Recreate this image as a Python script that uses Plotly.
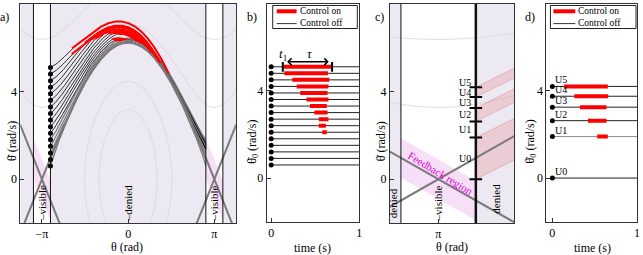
import numpy as np
import plotly.graph_objects as go

W, H = 643, 255
PI = np.pi

# ---------------- data ----------------
theta_dot0 = [5.1, 4.8, 4.5, 4.2, 3.9, 3.6, 3.3, 3.0, 2.7, 2.4, 2.1, 1.8, 1.5, 1.2, 0.9, 0.6]
ctrl_start = [0.144, 0.150, 0.240, 0.290, 0.330, 0.400, 0.440, 0.490, 0.540, 0.540, 0.580,
              None, None, None, None, None]
ctrl_end = [0.683, 0.645, 0.660, 0.650, 0.640, 0.650, 0.630, 0.640, 0.650, 0.620, 0.630,
            None, None, None, None, None]

u_labels = ["U0", "U1", "U2", "U3", "U4", "U5"]
u_values = [0.0, 1.9, 2.63, 3.25, 3.75, 4.2]
u_ctrl_start = [None, 0.53, 0.42, 0.325, 0.26, 0.137]
u_ctrl_end = [None, 0.655, 0.64, 0.64, 0.66, 0.655]
u_label_y_c = [0.93, 2.27, 2.96, 3.50, 3.96, 4.42]

legend_labels = ["Control on", "Control off"]

energy_levels = [5, 10, 25, 40]
g_over_l = 9.81
brake = 3.3
visible_half = 0.31
manifold_half_len = 0.8
feedback_half = 0.9
band_slope = 2.75
band_pairs = [(0, 1), (2, 3), (4, 5)]

FONT = "Liberation Serif"
LAV = "#ece9f3"
omega = np.sqrt(g_over_l)
VIS_LO, VIS_HI = PI - visible_half, PI + visible_half
THETA0 = -VIS_LO


def px_x(p):
    return p / W


def px_y(p):
    return 1 - p / H


# ---------------- simulation of the pendulum ----------------
def simulate(w0, t_on, t_off):
    dt = 0.0005
    th, w, t = THETA0, w0, 0.0
    ths, ws, on_list = [th], [w], [False]
    while th < VIS_LO and t < 4:
        on = t_on is not None and t_on <= t < t_off
        u = -brake if on else 0.0

        def f(a, b):
            return b, -g_over_l * np.sin(a) + u
        k1 = f(th, w)
        k2 = f(th + dt / 2 * k1[0], w + dt / 2 * k1[1])
        k3 = f(th + dt / 2 * k2[0], w + dt / 2 * k2[1])
        k4 = f(th + dt * k3[0], w + dt * k3[1])
        th += dt / 6 * (k1[0] + 2 * k2[0] + 2 * k3[0] + k4[0])
        w += dt / 6 * (k1[1] + 2 * k2[1] + 2 * k3[1] + k4[1])
        t += dt
        ths.append(th); ws.append(w); on_list.append(on)
    return np.array(ths), np.array(ws), np.array(on_list)


fig = go.Figure()

# ---------------- energy contours (panels a, c) ----------------
gx = np.linspace(-4.1, 4.1, 500)
gy = np.linspace(-2.3, 8.3, 400)
GX, GY = np.meshgrid(gx, gy)
EN = 0.5 * GY ** 2 + g_over_l * (1 - np.cos(GX))
for xa, ya in [("x", "y"), ("x3", "y3")]:
    for lev in energy_levels:
        fig.add_trace(go.Contour(
            x=gx, y=gy, z=EN, xaxis=xa, yaxis=ya, showscale=False, autocontour=False,
            contours=dict(coloring="lines", start=lev, end=lev + 0.5, size=1000),
            colorscale=[[0, "#d6d4da"], [1, "#d6d4da"]],
            line=dict(width=0.8), hoverinfo="skip"))

# ---------------- feedback region bands ----------------
def feedback_poly(c):
    a, b = c - visible_half, c + visible_half
    xs = [a, b, b, a, a]
    ys = [-omega * (a - c) + feedback_half, -omega * (b - c) + feedback_half,
          -omega * (b - c) - feedback_half, -omega * (a - c) - feedback_half,
          -omega * (a - c) + feedback_half]
    return xs, ys


for c, xa, ya in [(-PI, "x", "y"), (PI, "x", "y"), (PI, "x3", "y3")]:
    xs, ys = feedback_poly(c)
    fig.add_trace(go.Scatter(x=xs, y=ys, xaxis=xa, yaxis=ya, fill="toself",
                             fillcolor="rgba(225,110,225,0.22)", line=dict(width=0),
                             mode="lines", showlegend=False, hoverinfo="skip"))

# ---------------- red reachable bands (panel c) ----------------
x_end = 4.0
for i, j in band_pairs:
    lo0, hi0 = u_values[i], u_values[j]
    xs = [VIS_HI, x_end, x_end, VIS_HI, VIS_HI]
    ys = [lo0, lo0 + band_slope * (x_end - VIS_HI), hi0 + band_slope * (x_end - VIS_HI), hi0, lo0]
    fig.add_trace(go.Scatter(x=xs, y=ys, xaxis="x3", yaxis="y3", fill="toself",
                             fillcolor="rgba(230,60,60,0.17)",
                             line=dict(width=1, color="rgba(230,60,60,0.25)"),
                             mode="lines", showlegend=False, hoverinfo="skip"))

# ---------------- manifold lines ----------------
for c, xa, ya in [(-PI, "x", "y"), (PI, "x", "y"), (PI, "x3", "y3")]:
    for sgn in (1, -1):
        xs = [c - manifold_half_len, c + manifold_half_len]
        ys = [sgn * omega * (x - c) for x in xs]
        fig.add_trace(go.Scatter(x=xs, y=ys, xaxis=xa, yaxis=ya, mode="lines",
                                 line=dict(color="#7a7a7a", width=2),
                                 showlegend=False, hoverinfo="skip"))

# ---------------- trajectories (panel a) ----------------
for w0, t_on, t_off in zip(theta_dot0, ctrl_start, ctrl_end):
    th, w, on = simulate(w0, t_on, t_off)
    if t_on is None:
        fig.add_trace(go.Scatter(x=th, y=w, mode="lines", line=dict(color="#777", width=1.2),
                                 showlegend=False, hoverinfo="skip"))
    else:
        fig.add_trace(go.Scatter(x=th, y=w, mode="lines", line=dict(color="black", width=0.8),
                                 showlegend=False, hoverinfo="skip"))
for w0, t_on, t_off in zip(theta_dot0, ctrl_start, ctrl_end):
    if t_on is None:
        continue
    th, w, on = simulate(w0, t_on, t_off)
    idx = np.where(on)[0]
    sl = slice(max(idx[0] - 1, 0), idx[-1] + 1)
    fig.add_trace(go.Scatter(x=th[sl], y=w[sl], mode="lines", line=dict(color="red", width=2),
                             showlegend=False, hoverinfo="skip"))
fig.add_trace(go.Scatter(x=[THETA0] * len(theta_dot0), y=theta_dot0, mode="markers",
                         marker=dict(color="black", size=5), showlegend=False, hoverinfo="skip"))

# ---------------- panel b ----------------
for w0, t_on, t_off in zip(theta_dot0, ctrl_start, ctrl_end):
    fig.add_trace(go.Scatter(x=[0, 1], y=[w0, w0], xaxis="x2", yaxis="y2", mode="lines",
                             line=dict(color="#222", width=1), showlegend=False, hoverinfo="skip"))
for w0, t_on, t_off in zip(theta_dot0, ctrl_start, ctrl_end):
    if t_on is None:
        continue
    fig.add_trace(go.Scatter(x=[t_on, t_off], y=[w0, w0], xaxis="x2", yaxis="y2", mode="lines",
                             line=dict(color="red", width=4), showlegend=False, hoverinfo="skip"))
fig.add_trace(go.Scatter(x=[0] * len(theta_dot0), y=theta_dot0, xaxis="x2", yaxis="y2",
                         mode="markers", marker=dict(color="black", size=5),
                         showlegend=False, hoverinfo="skip"))
fig.add_trace(go.Scatter(x=[ctrl_start[0] - 0.012, ctrl_end[0] + 0.008], y=[theta_dot0[0]] * 2,
                         xaxis="x2", yaxis="y2", mode="markers",
                         marker=dict(symbol="line-ns", size=7, line=dict(width=2, color="black")),
                         showlegend=False, hoverinfo="skip"))

# ---------------- panel c ticks ----------------
fig.add_trace(go.Scatter(x=[VIS_HI] * len(u_values), y=u_values, xaxis="x3", yaxis="y3",
                         mode="markers",
                         marker=dict(symbol="line-ew", size=9, line=dict(width=2, color="black")),
                         showlegend=False, hoverinfo="skip"))

# ---------------- panel d ----------------
for k, (uv, t_on, t_off) in enumerate(zip(u_values, u_ctrl_start, u_ctrl_end)):
    col = "#888" if k == 1 else "#222"
    fig.add_trace(go.Scatter(x=[0, 1], y=[uv, uv], xaxis="x4", yaxis="y4", mode="lines",
                             line=dict(color=col, width=1), showlegend=False, hoverinfo="skip"))
for uv, t_on, t_off in zip(u_values, u_ctrl_start, u_ctrl_end):
    if t_on is None:
        continue
    fig.add_trace(go.Scatter(x=[t_on, t_off], y=[uv, uv], xaxis="x4", yaxis="y4", mode="lines",
                             line=dict(color="red", width=4), showlegend=False, hoverinfo="skip"))
fig.add_trace(go.Scatter(x=[0] * len(u_values), y=u_values, xaxis="x4", yaxis="y4",
                         mode="markers", marker=dict(color="black", size=5),
                         showlegend=False, hoverinfo="skip"))

# ---------------- shapes ----------------
shapes = []
shapes.append(dict(type="rect", xref="x domain", yref="y domain", x0=0, x1=1, y0=0, y1=1,
                   fillcolor=LAV, line=dict(width=0), layer="below"))
for c in (-PI, PI):
    shapes.append(dict(type="rect", xref="x", yref="y domain", x0=c - visible_half,
                       x1=c + visible_half, y0=0, y1=1, fillcolor="white",
                       line=dict(width=0), layer="below"))
    for xv in (c - visible_half, c + visible_half):
        shapes.append(dict(type="line", xref="x", yref="y domain", x0=xv, x1=xv, y0=0, y1=1,
                           line=dict(color="#111", width=1)))
shapes.append(dict(type="rect", xref="x3 domain", yref="y3 domain", x0=0, x1=1, y0=0, y1=1,
                   fillcolor=LAV, line=dict(width=0), layer="below"))
shapes.append(dict(type="rect", xref="x3", yref="y3 domain", x0=VIS_LO, x1=VIS_HI, y0=0, y1=1,
                   fillcolor="white", line=dict(width=0), layer="below"))
shapes.append(dict(type="line", xref="x3", yref="y3 domain", x0=VIS_LO, x1=VIS_LO, y0=0, y1=1,
                   line=dict(color="#111", width=1)))
shapes.append(dict(type="line", xref="x3", yref="y3 domain", x0=VIS_HI, x1=VIS_HI, y0=0, y1=1,
                   line=dict(color="#111", width=2.5)))

# manual legends (panels b and d)
LEG_TOP, LEG_BOT = 5.5, 28.5
ROW1, ROW2 = 11.3, 23.6
for (lx0, lx1, sx0, sx1) in [(274, 359, 278, 298), (553, 639, 556, 578)]:
    shapes.append(dict(type="rect", xref="paper", yref="paper", x0=px_x(lx0), x1=px_x(lx1),
                       y0=px_y(LEG_BOT), y1=px_y(LEG_TOP), fillcolor="white",
                       line=dict(color="#222", width=1)))
    shapes.append(dict(type="line", xref="paper", yref="paper", x0=px_x(sx0), x1=px_x(sx1),
                       y0=px_y(ROW1), y1=px_y(ROW1), line=dict(color="red", width=4)))
    shapes.append(dict(type="line", xref="paper", yref="paper", x0=px_x(sx0), x1=px_x(sx1),
                       y0=px_y(ROW2), y1=px_y(ROW2), line=dict(color="#333", width=1)))

# ---------------- annotations ----------------
ann = []


def txt(x, y, s, size=12, xanchor="center", yanchor="middle", angle=0, color="black",
        xref="paper", yref="paper", **kw):
    d = dict(x=x, y=y, text=s, showarrow=False, xref=xref, yref=yref, xanchor=xanchor,
             yanchor=yanchor, textangle=angle, font=dict(family=FONT, size=size, color=color))
    d.update(kw)
    ann.append(d)


txt(px_x(5), px_y(17), "a)")
txt(px_x(253), px_y(17), "b)")
txt(px_x(381), px_y(17), "c)")
txt(px_x(532), px_y(17), "d)")
for tx in (300, 580):
    txt(px_x(tx), px_y((ROW1 + ROW2) / 2), "<br>".join(legend_labels), size=9.5,
        xanchor="left", align="left", borderpad=0)
txt(px_x(12), px_y(141), "θ̇ (rad/s)", angle=-90)
txt(px_x(254), px_y(142), "θ̇<sub>0</sub> (rad/s)", angle=-90)
txt(px_x(383), px_y(141), "θ̇ (rad/s)", angle=-90)
txt(px_x(533), px_y(142), "θ̇<sub>0</sub> (rad/s)", angle=-90)
txt(px_x(128), px_y(247), "θ (rad)")
txt(px_x(314), px_y(248), "time (s)")
txt(px_x(454), px_y(247), "θ (rad)")
txt(px_x(595), px_y(248), "time (s)")
for xv, s, xr, yr in [(-PI, "–visible", "x", "y"), (0, "–denied", "x", "y"), (PI, "–visible", "x", "y"),
                      (PI, "–visible", "x3", "y3")]:
    txt(xv, 0, s, size=11, angle=-90, xref=xr, yref=yr + " domain", yanchor="bottom")
txt(px_x(395), px_y(220), "denied", size=11, angle=-90, yanchor="bottom")
txt(px_x(498), px_y(216), "denied", size=11, angle=-90, yanchor="bottom")
txt(3.156, 0.29, "Feedback region", size=11, angle=31, color="#e000e0", xref="x3", yref="y3")
for lab, yv in zip(u_labels, u_label_y_c):
    txt(VIS_HI, yv, lab, size=10, xanchor="right", xref="x3", yref="y3", xshift=-3)
for lab, uv in zip(u_labels, u_values):
    txt(0.01, uv, lab, size=10, xanchor="left", yanchor="bottom", xref="x4", yref="y4", yshift=-1)
txt(0.13, 5.68, "<i>t</i><sub>1</sub>", size=13, xref="x2", yref="y2")
txt(0.445, 5.72, "<i>τ</i>", size=13, xref="x2", yref="y2")
ann.append(dict(x=ctrl_end[0] - 0.03, y=5.33, ax=ctrl_start[0] + 0.02, ay=5.33, xref="x2", yref="y2",
                axref="x2", ayref="y2", showarrow=True, arrowhead=4, arrowside="end+start",
                arrowwidth=1.3, arrowsize=1, arrowcolor="black", text=""))

# ---------------- axes ----------------
tickfont = dict(family=FONT, size=12, color="black")


def xaxis(dom, rng, tv, tt):
    return dict(domain=[px_x(dom[0]), px_x(dom[1])], range=rng, tickvals=tv, ticktext=tt,
                showgrid=False, zeroline=False, showline=True, mirror=True, linecolor="#333",
                linewidth=1, ticks="inside", ticklen=4, tickcolor="#333", tickfont=tickfont)


def yaxis(dom, anchor):
    return dict(domain=[px_y(dom[1]), px_y(dom[0])], range=[-2, 8], tickvals=[0, 4, 8],
                showgrid=False, zeroline=False, showline=True, mirror=True, linecolor="#333",
                linewidth=1, ticks="inside", ticklen=4, tickcolor="#333", tickfont=tickfont,
                anchor=anchor)


fig.update_layout(
    width=W, height=H, margin=dict(l=0, r=0, t=0, b=0),
    paper_bgcolor="white", plot_bgcolor="rgba(0,0,0,0)",
    showlegend=False,
    xaxis=dict(xaxis([20.5, 237], [-1.25 * PI, 1.25 * PI], [-PI, 0, PI], ["−π", "0", "π"]), anchor="y"),
    yaxis=yaxis([4, 223], "x"),
    xaxis2=dict(xaxis([268, 361], [-0.05, 1.0], [0, 1], ["0", "1"]), anchor="y2"),
    yaxis2=yaxis([3.5, 221.7], "x2"),
    xaxis3=dict(xaxis([391.7, 516.7], [2.74, 3.77], [PI], ["π"]), anchor="y3"),
    yaxis3=yaxis([4, 223], "x3"),
    xaxis4=dict(xaxis([549, 640], [-0.07, 1.0], [0, 1], ["0", "1"]), anchor="y4"),
    yaxis4=yaxis([3.5, 221.7], "x4"),
    shapes=shapes, annotations=ann,
)

fig.write_html("out.html", config={"displayModeBar": False},
               post_script="document.body.style.margin='0';document.body.style.overflow='hidden';")
